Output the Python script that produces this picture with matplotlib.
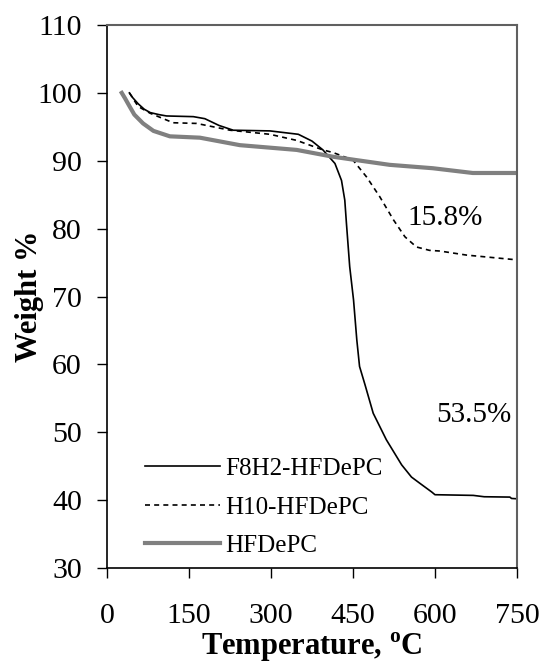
import matplotlib
matplotlib.use("Agg")
import matplotlib.pyplot as plt

# TGA curves (temperature in C, weight %)
f8h2_t = [41, 47, 57, 68, 79, 95, 109, 158, 179, 205, 231, 298, 350, 375, 395, 417, 429, 435, 438, 444, 451, 457, 462, 472,
          487, 511, 539, 557, 572, 594, 600, 670, 690, 737, 740, 750]
f8h2_w = [100, 99.3, 98.4, 97.6, 97.1, 96.8, 96.6, 96.5, 96.2, 95.2, 94.5, 94.4, 93.9, 92.9, 91.6, 89.6, 87.1, 84.2, 80.8, 74.4, 69.5, 63.6, 59.7, 57.0,
          52.8, 48.9, 45.2, 43.4, 42.5, 41.2, 40.8, 40.7, 40.5, 40.45, 40.25, 40.2]

h10_t = [41, 57, 79, 121, 164, 225, 298, 347, 395, 414, 450, 475, 499, 524, 545, 566, 590, 609, 658, 750]
h10_w = [100, 98.0, 97.0, 95.6, 95.5, 94.5, 93.9, 93.0, 91.6, 91.2, 90.1, 87.6, 84.7, 81.3, 78.8, 77.3, 76.8, 76.7, 76.1, 75.4]

hf_t = [27, 33, 40, 50, 66, 85, 115, 170, 243, 347, 413, 456, 517, 596, 669, 750]
hf_w = [100, 99.2, 98.2, 96.8, 95.5, 94.4, 93.6, 93.4, 92.3, 91.6, 90.6, 90.1, 89.4, 88.9, 88.2, 88.2]

labels = ['F8H2-HFDePC', 'H10-HFDePC', 'HFDePC']

plt.rcParams['font.family'] = ['Liberation Serif', 'DejaVu Serif']
plt.rcParams['mathtext.fontset'] = 'custom'
plt.rcParams['mathtext.rm'] = 'Liberation Serif'
plt.rcParams['mathtext.bf'] = 'Liberation Serif:bold'

fig = plt.figure(figsize=(5.45, 6.67), dpi=100)
ax = fig.add_axes([0.1963, 0.1484, 0.7523, 0.8141])

ax.plot(f8h2_t, f8h2_w, color='black', lw=1.2, label=labels[0])
ax.plot(h10_t, h10_w, color='black', lw=1.2, ls=(0, (3, 2.5)), label=labels[1])
ax.plot(hf_t, hf_w, color='#808080', lw=3, label=labels[2])

ax.text(618, 81.5, '15.8%', fontsize=21, ha='center', va='center')
ax.text(671, 52.5, '53.5%', fontsize=21, ha='center', va='center')

ax.set_xlim(0, 750)
ax.set_ylim(30, 110)
ax.set_xticks(range(0, 751, 150))
ax.set_yticks(range(30, 111, 10))
ax.tick_params(axis='both', direction='out', length=7, width=1, labelsize=21.5)
ax.tick_params(axis='x', pad=18)
ax.tick_params(axis='y', pad=11)

for s in ['left', 'bottom']:
    ax.spines[s].set_linewidth(1.2)
for s in ['top', 'right']:
    ax.spines[s].set_color('#606060')
    ax.spines[s].set_linewidth(1.5)

ax.set_xlabel(r'Temperature, $^{\mathbf{o}}$C', fontsize=22, fontweight='bold', labelpad=1)
ax.set_ylabel('Weight %', fontsize=22, fontweight='bold', labelpad=-5)

ax.legend(loc='lower left', bbox_to_anchor=(0.093, 0.02), frameon=False, fontsize=18,
          handlelength=3.0, handletextpad=0.2, labelspacing=0.64, borderpad=0, borderaxespad=0)

fig.savefig('out.png', dpi=100)
